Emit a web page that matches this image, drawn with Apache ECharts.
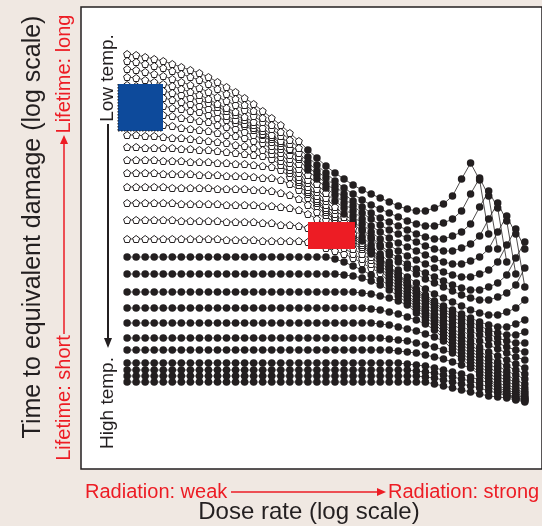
<!DOCTYPE html>
<html><head><meta charset="utf-8">
<script src="https://cdn.jsdelivr.net/npm/echarts@6/dist/echarts.min.js"></script>
<style>html,body{margin:0;padding:0;background:#f0e8e2}#c{width:542px;height:526px}</style>
</head><body><div id="c"></div>
<script>
// dose-rate steps (log scale, arbitrary units)
const doseRate = [0,1,2,3,4,5,6,7,8,9,10,11,12,13,14,15,16,17,18,19,20,21,22,23,24,25,26,27,28,29,30,31,32,33,34,35,36,37,38,39,40,41,42,43,44];
// time to equivalent damage (log scale, arbitrary units), low temp -> high temp
const c01 = [446,445,443,441,439,436,433,430,427,423,418,413,408,402,396,389,382,375,367,359,350,342,334,327,321,315,310,306,302,298,294,291,289,289,292,296,304,321,337,320,266];
const c02 = [439,438,436,434,432,429,426,423,420,416,411,406,401,395,389,382,375,368,360,352,343,335,327,319,312,306,300,295,291,287,283,279,276,274,274,277,281,289,306,322,304,251];
const c03 = [431,430,428,426,424,421,418,415,412,408,403,399,395,390,384,378,371,364,356,347,338,329,322,314,306,299,293,287,282,278,274,270,266,263,261,261,264,268,276,293,309,292,238];
const c04 = [423,422,420,418,416,414,411,408,405,401,396,392,388,383,378,372,365,359,351,343,334,325,316,310,302,294,287,281,275,270,266,262,258,254,251,249,249,252,256,264,281,297,279,226];
const c05 = [415,414,413,411,409,407,405,402,400,397,393,389,385,380,375,369,363,357,350,341,330,321,312,305,297,289,281,274,268,262,257,253,249,245,241,238,236,236,239,243,251,268,284,266,213];
const c06 = [407,406,405,404,402,400,398,396,394,391,388,384,380,376,372,366,361,354,345,336,325,316,307,299,292,284,276,268,261,255,249,244,240,236,232,228,225,223,223,226,230,238,255,271,251];
const c07 = [398,397,396,395,394,392,391,389,388,385,382,380,377,374,370,365,358,351,341,331,320,311,302,293,286,279,271,263,255,248,242,236,231,227,223,219,215,212,210,210,213,217,225,242,258];
const c08 = [388,388,387,386,385,384,382,381,379,378,375,373,371,368,365,361,354,347,337,327,317,308,299,290,283,276,269,261,253,245,238,232,226,221,217,213,209,205,202,200,200,203,207,215,232];
const c09 = [377,377,376,375,375,374,372,371,370,369,367,365,364,362,359,357,350,343,333,323,313,304,295,286,278,271,263,255,246,238,230,223,217,211,206,202,198,194,190,187,185,185,188,192,200];
const c10 = [365,365,364,364,363,362,362,361,360,359,358,357,355,354,352,350,346,339,330,320,310,301,292,283,274,266,259,251,243,234,226,218,211,205,199,194,190,186,182,178,175,173,173,176,180];
const c11 = [353,353,352,352,352,352,351,351,350,350,349,348,347,346,345,344,341,335,327,318,308,299,290,281,272,264,257,250,242,233,225,217,209,203,197,191,186,182,178,174,170,167,165,165,168];
const c12 = [340,340,340,340,339,339,339,338,338,338,337,337,336,336,335,334,333,330,323,315,306,297,288,279,270,262,255,248,240,232,224,216,208,201,195,189,183,178,174,170,166,162,159,157,157];
const c13 = [327,327,327,327,326,326,326,326,325,325,325,324,324,324,323,322,322,320,316,310,302,294,285,276,267,259,253,246,238,230,222,214,206,199,193,186,180,174,169,165,161,157,153,150,148];
const c14 = [313,313,313,313,313,312,312,312,312,312,311,311,311,311,310,310,309,307,305,301,295,288,280,272,264,256,251,243,235,227,219,211,203,196,189,182,176,170,164,159,155,151,147,143,140];
const c15 = [297,297,297,297,297,297,296,296,296,296,296,295,295,295,295,294,294,293,292,290,286,281,274,267,259,251,246,240,232,224,216,208,200,193,186,179,172,165,159,153,148,144,140,136,132];
const c16 = [280,280,280,280,280,280,279,279,279,279,279,278,278,278,278,277,277,275,275,274,272,268,263,257,252,246,241,236,230,221,213,205,197,190,183,176,169,162,155,149,143,138,134,130,126];
const c17 = [261,261,261,261,261,261,261,261,261,261,261,260,260,260,260,259,259,259,259,259,258,255,252,249,246,242,237,232,227,218,210,203,195,188,181,174,166,159,152,146,140,134,129,125,121];
const c18 = [243,243,243,243,243,243,243,243,243,243,243,243,243,243,243,243,243,243,243,243,243,243,243,241,238,234,230,225,220,215,207,200,193,186,179,171,163,156,149,143,136,131,125,120,116];
const c19 = [226,226,226,226,226,226,226,226,226,226,226,226,226,226,226,226,226,226,226,226,226,226,226,226,225,224,222,219,215,210,204,197,190,183,176,168,160,153,146,140,133,127,122,117,112];
const c20 = [208,208,208,208,208,208,208,208,208,208,208,208,208,208,208,208,208,208,208,208,208,208,208,208,208,208,207,206,204,202,199,195,187,180,173,165,157,150,143,137,130,124,119,114,109];
const c21 = [192,192,192,192,192,192,192,192,192,192,192,192,192,192,192,192,192,192,192,192,192,192,192,192,192,192,192,191,190,188,186,183,180,176,170,162,154,147,140,134,127,121,116,111,107];
const c22 = [177,177,177,177,177,177,177,177,177,177,177,177,177,177,177,177,177,177,177,177,177,177,177,177,177,177,177,177,176,175,173,171,169,166,163,159,151,144,137,131,124,118,113,109,105];
const c23 = [162,162,162,162,162,162,162,162,162,162,162,162,162,162,162,162,162,162,162,162,162,162,162,162,162,162,162,162,162,161,160,159,157,155,153,150,147,141,134,128,121,115,110,107,103];
const c24 = [150,150,150,150,150,150,150,150,150,150,150,150,150,150,150,150,150,150,150,150,150,150,150,150,150,150,150,150,150,150,149,148,147,145,143,141,138,135,132,125,119,113,108,105,102];
const c25 = [137,137,137,137,137,137,137,137,137,137,137,137,137,137,137,137,137,137,137,137,137,137,137,137,137,137,137,137,137,137,137,136,135,134,132,130,128,126,123,120,117,111,106,103,101];
const c26 = [130,130,130,130,130,130,130,130,130,130,130,130,130,130,130,130,130,130,130,130,130,130,130,130,130,130,130,130,130,130,130,130,129,128,127,125,123,121,119,116,113,109,105,102,100];
const c27 = [124,124,124,124,124,124,124,124,124,124,124,124,124,124,124,124,124,124,124,124,124,124,124,124,124,124,124,124,124,124,124,124,124,123,122,120,118,116,114,112,109,107,104,101,99];
const c28 = [118,118,118,118,118,118,118,118,118,118,118,118,118,118,118,118,118,118,118,118,118,118,118,118,118,118,118,118,118,118,118,118,118,118,116,114,112,110,108,106,104,103,102,100,98];
const curves = [c01,c02,c03,c04,c05,c06,c07,c08,c09,c10,c11,c12,c13,c14,c15,c16,c17,c18,c19,c20,c21,c22,c23,c24,c25,c26,c27,c28];
// first dose-rate step drawn with a filled marker (earlier steps are open markers)
const firstFilled = [20,20,20,20,20,23,24,25,26,26,27,27,27,28,28,28,29,0,0,0,0,0,0,0,0,0,0,0];

const INK = '#231f20';
const red = '#ed1c24';
const pent = 'path://M0,-1 L0.951,-0.309 L0.588,0.809 L-0.588,0.809 L-0.951,-0.309 Z';
const series = [];
for (let k = curves.length - 1; k >= 0; k--) {
  const c = curves[k];
  series.push({
    type: 'line', silent: true, animation: false,
    lineStyle: {color: INK, width: 0.8},
    symbolSize: 7,
    data: c.map((v, i) => i < firstFilled[k]
      ? {value: [doseRate[i], v], symbol: pent, symbolSize: 7, itemStyle: {color: '#fff', borderColor: INK, borderWidth: 1}}
      : {value: [doseRate[i], v], symbol: 'circle', symbolSize: 7.5, itemStyle: {color: INK, borderWidth: 0}})
  });
}
const chart = echarts.init(document.getElementById('c'));
chart.setOption({
  backgroundColor: '#f0e8e2',
  animation: false,
  grid: {left: 81, top: 7, width: 471, height: 462, show: true, backgroundColor: '#fff', borderColor: INK, borderWidth: 1.5},
  xAxis: {type: 'value', min: -5.1, max: 45.9, axisLine: {show: false}, axisTick: {show: false}, axisLabel: {show: false}, splitLine: {show: false}},
  yAxis: {type: 'value', min: 31, max: 493, axisLine: {show: false}, axisTick: {show: false}, axisLabel: {show: false}, splitLine: {show: false}},
  series: series,
  graphic: [
    {type: 'rect', shape: {x: 118, y: 84, width: 45, height: 47}, style: {fill: '#0d4a9b'}, z: 100},
    {type: 'line', shape: {x1: 118, y1: 84, x2: 118, y2: 131}, style: {stroke: INK, lineWidth: 1, lineDash: [1.5, 1.5]}, z: 101},
    {type: 'line', shape: {x1: 118, y1: 131, x2: 163, y2: 131}, style: {stroke: INK, lineWidth: 1, lineDash: [1.5, 1.5]}, z: 101},
    {type: 'rect', shape: {x: 308, y: 222, width: 47, height: 27}, style: {fill: red}, z: 100},
    {type: 'text', x: 33, y: 227, rotation: Math.PI/2, style: {text: 'Time to equivalent damage (log scale)', font: '25px "Liberation Sans"', fill: INK, align: 'center', verticalAlign: 'middle'}, z: 100},
    {type: 'text', x: 309, y: 512, style: {text: 'Dose rate (log scale)', font: '24px "Liberation Sans"', fill: INK, align: 'center', verticalAlign: 'middle'}, z: 100},
    {type: 'text', x: 85, y: 492, style: {text: 'Radiation: weak', font: '20px "Liberation Sans"', fill: red, align: 'left', verticalAlign: 'middle'}, z: 100},
    {type: 'text', x: 388, y: 492, style: {text: 'Radiation: strong', font: '20px "Liberation Sans"', fill: red, align: 'left', verticalAlign: 'middle'}, z: 100},
    {type: 'line', shape: {x1: 231, y1: 492, x2: 380, y2: 492}, style: {stroke: red, lineWidth: 1.5}, z: 100},
    {type: 'polygon', shape: {points: [[386, 492], [377, 488], [377, 496]]}, style: {fill: red}, z: 100},
    {type: 'text', x: 64, y: 398, rotation: Math.PI/2, style: {text: 'Lifetime: short', font: '20px "Liberation Sans"', fill: red, align: 'center', verticalAlign: 'middle'}, z: 100},
    {type: 'text', x: 64, y: 74, rotation: Math.PI/2, style: {text: 'Lifetime: long', font: '20px "Liberation Sans"', fill: red, align: 'center', verticalAlign: 'middle'}, z: 100},
    {type: 'line', shape: {x1: 64, y1: 334, x2: 64, y2: 142}, style: {stroke: red, lineWidth: 1.5}, z: 100},
    {type: 'polygon', shape: {points: [[64, 135], [60, 144], [68, 144]]}, style: {fill: red}, z: 100},
    {type: 'text', x: 108, y: 78, rotation: Math.PI/2, style: {text: 'Low temp.', font: '19px "Liberation Sans"', fill: INK, align: 'center', verticalAlign: 'middle'}, z: 100},
    {type: 'text', x: 108, y: 403, rotation: Math.PI/2, style: {text: 'High temp.', font: '19px "Liberation Sans"', fill: INK, align: 'center', verticalAlign: 'middle'}, z: 100},
    {type: 'line', shape: {x1: 108, y1: 124, x2: 108, y2: 340}, style: {stroke: INK, lineWidth: 2}, z: 100},
    {type: 'polygon', shape: {points: [[108, 348], [104, 338], [112, 338]]}, style: {fill: INK}, z: 100}
  ]
});
</script></body></html>
